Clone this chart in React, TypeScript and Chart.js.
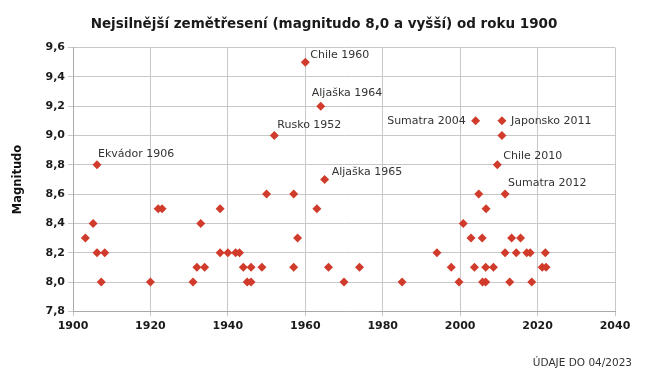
import { useEffect, useRef } from "react";
import { Chart, registerables } from "chart.js";

Chart.register(...registerables);

const years = [
  1903.2, 1905.2, 1906.2, 1906.2, 1907.3, 1908.2, 1920, 1922, 1923, 1931,
  1932, 1933, 1934, 1938, 1938, 1940, 1942, 1943, 1944, 1945,
  1946, 1946, 1948.8, 1950, 1952, 1957, 1957, 1958, 1960, 1963,
  1964, 1965, 1966, 1970, 1974, 1985, 1994, 1997.7, 1999.7, 2000.8,
  2002.8, 2003.7, 2004, 2004.8, 2005.7, 2005.8, 2006.6, 2006.6, 2006.7, 2008.6,
  2009.6, 2010.8, 2010.8, 2011.6, 2011.6, 2012.8, 2013.3, 2014.5, 2015.6, 2017.2,
  2018.1, 2018.5, 2021.2, 2022, 2022.2,
];
const magnitudes = [
  8.3, 8.4, 8.8, 8.2, 8.0, 8.2, 8.0, 8.5, 8.5, 8.0,
  8.1, 8.4, 8.1, 8.5, 8.2, 8.2, 8.2, 8.2, 8.1, 8.0,
  8.0, 8.1, 8.1, 8.6, 9.0, 8.6, 8.1, 8.3, 9.5, 8.5,
  9.2, 8.7, 8.1, 8.0, 8.1, 8.0, 8.2, 8.1, 8.0, 8.4,
  8.3, 8.1, 9.1, 8.6, 8.3, 8.0, 8.0, 8.1, 8.5, 8.1,
  8.8, 9.1, 9.0, 8.6, 8.2, 8.0, 8.3, 8.2, 8.3, 8.2,
  8.2, 8.0, 8.1, 8.2, 8.1,
];

const labelTexts = [
  "Ekvádor 1906", "Rusko 1952", "Chile 1960", "Aljaška 1964", "Aljaška 1965",
  "Sumatra 2004", "Chile 2010", "Japonsko 2011", "Sumatra 2012",
];
const labelYears = [1906.2, 1952, 1960, 1964, 1965, 2004, 2009.6, 2010.8, 2011.6];
const labelMags = [8.8, 9.0, 9.5, 9.2, 8.7, 9.1, 8.8, 9.1, 8.6];

const xTicks = [1900, 1920, 1940, 1960, 1980, 2000, 2020, 2040];
const yTicks = [7.8, 8.0, 8.2, 8.4, 8.6, 8.8, 9.0, 9.2, 9.4, 9.6];

const titleText = "Nejsilnější zemětřesení (magnitudo 8,0 a vyšší) od roku 1900";
const yTitleText = "Magnitudo";
const footnoteText = "ÚDAJE DO 04/2023";

// placement of each annotation relative to its point: [dx, dy, align]
const labelPlacement: [number, number, CanvasTextAlign][] = [
  [1, -11, "left"],
  [3, -10, "left"],
  [5, -7, "left"],
  [-9, -13, "left"],
  [7, -7, "left"],
  [-10, 0, "right"],
  [6, -9, "left"],
  [9, 0, "left"],
  [3, -11, "left"],
];

const POINT_COLOR = "#d03b2b";
const GRID_COLOR = "#c8c8c8";

export default function App() {
  const ref = useRef<HTMLCanvasElement | null>(null);

  useEffect(() => {
    if (!ref.current) return;
    const textPlugin = {
      id: "texts",
      afterDraw(chart: any) {
        const ctx = chart.ctx as CanvasRenderingContext2D;
        const xs = chart.scales.x;
        const ys = chart.scales.y;
        ctx.save();
        // title
        ctx.fillStyle = "#1a1a1a";
        ctx.font = "bold 13.5px 'DejaVu Sans'";
        ctx.textAlign = "center";
        ctx.textBaseline = "middle";
        ctx.fillText(titleText, 324, 24);
        // annotations
        ctx.font = "11px 'DejaVu Sans'";
        ctx.fillStyle = "#333333";
        labelTexts.forEach((t, i) => {
          const px = xs.getPixelForValue(labelYears[i]);
          const py = ys.getPixelForValue(labelMags[i]);
          const [dx, dy, align] = labelPlacement[i];
          ctx.textAlign = align;
          ctx.textBaseline = "middle";
          ctx.fillText(t, px + dx, py + dy);
        });
        // footnote
        ctx.font = "10.5px 'DejaVu Sans'";
        ctx.fillStyle = "#333333";
        ctx.textAlign = "right";
        ctx.textBaseline = "middle";
        ctx.fillText(footnoteText, 632, 363);
        ctx.restore();
      },
    };

    const chart = new Chart(ref.current, {
      type: "scatter",
      data: {
        datasets: [
          {
            data: years.map((y, i) => ({ x: y, y: magnitudes[i] })),
            pointStyle: "rectRot",
            pointRadius: 4.5,
            pointBorderWidth: 0,
            backgroundColor: POINT_COLOR,
            borderColor: POINT_COLOR,
          },
        ],
      },
      options: {
        responsive: false,
        animation: false,
        layout: { padding: { top: 47.6, right: 35, bottom: 43.7, left: 0 } },
        plugins: {
          legend: { display: false },
          tooltip: { enabled: false },
          title: { display: false },
        },
        scales: {
          x: {
            type: "linear",
            min: xTicks[0],
            max: xTicks[xTicks.length - 1],
            afterBuildTicks: (s: any) => {
              s.ticks = xTicks.map((v) => ({ value: v }));
            },
            afterFit: (s: any) => {
              s.height = 25;
            },
            grid: { color: GRID_COLOR, tickLength: 5, lineWidth: 1 },
            border: { color: "#aaaaaa" },
            ticks: {
              padding: 3,
              color: "#1a1a1a",
              font: { family: "'DejaVu Sans'", size: 11, weight: "bold" },
              callback: (v: any) => String(v),
              maxRotation: 0,
            },
          },
          y: {
            type: "linear",
            min: yTicks[0],
            max: yTicks[yTicks.length - 1],
            afterBuildTicks: (s: any) => {
              s.ticks = yTicks.map((v) => ({ value: v }));
            },
            afterFit: (s: any) => {
              s.width = 73;
            },
            grid: { color: GRID_COLOR, tickLength: 5, lineWidth: 1 },
            border: { color: "#aaaaaa" },
            title: {
              display: true,
              text: yTitleText,
              color: "#111111",
              font: { family: "'DejaVu Sans'", size: 11.5, weight: "bold" },
              padding: { top: 11, bottom: 0 },
            },
            ticks: {
              padding: 3,
              color: "#1a1a1a",
              font: { family: "'DejaVu Sans'", size: 11, weight: "bold" },
              callback: (v: any) => Number(v).toFixed(1).replace(".", ","),
            },
          },
        },
      },
      plugins: [textPlugin],
    } as any);
    return () => chart.destroy();
  }, []);

  return (
    <div style={{ position: "absolute", left: 0, top: 0, width: 650, height: 380, background: "#ffffff" }}>
      <canvas ref={ref} width={650} height={380} style={{ width: 650, height: 380 }} />
    </div>
  );
}
